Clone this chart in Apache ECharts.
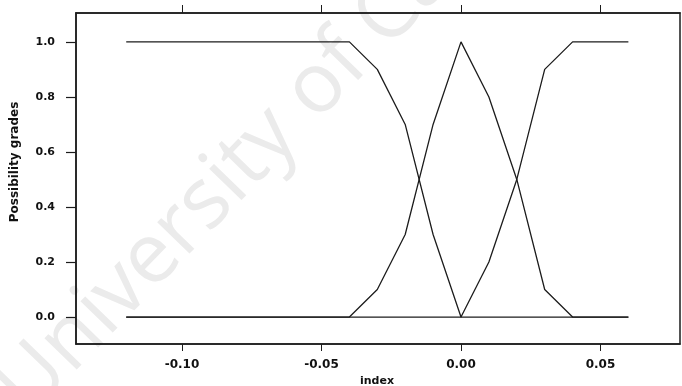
<!DOCTYPE html>
<html>
<head>
<meta charset="utf-8">
<script src="https://cdn.jsdelivr.net/npm/echarts@6/dist/echarts.min.js"></script>
<style>
  html, body { margin: 0; padding: 0; background: #ffffff; }
  #chart { width: 682px; height: 386px; }
</style>
</head>
<body>
<div id="chart"></div>
<script>
// Index values at which the membership functions are sampled
const indexValues = [-0.12, -0.04, -0.03, -0.02, -0.01, 0.00, 0.01, 0.02, 0.03, 0.04, 0.06];
// Possibility grades of the three fuzzy sets
const gradeLow  = [1, 1, 0.9, 0.7, 0.3, 0, 0, 0, 0, 0, 0];
const gradeMid  = [0, 0, 0.1, 0.3, 0.7, 1, 0.8, 0.5, 0.1, 0, 0];
const gradeHigh = [0, 0, 0, 0, 0, 0, 0.2, 0.5, 0.9, 1, 1];
// Tick positions
const xTicks = [-0.10, -0.05, 0.00, 0.05];
const yTicks = [0.0, 0.2, 0.4, 0.6, 0.8, 1.0];

const ink = '#1c1c1c';
const pairs = ys => indexValues.map((x, i) => [x, ys[i]]);

const lineSeries = ys => ({
  type: 'line',
  data: pairs(ys),
  showSymbol: false,
  symbol: 'none',
  lineStyle: { color: ink, width: 1.3 },
  itemStyle: { color: ink },
  animation: false,
  z: 3
});

const frameLine = { show: true, onZero: false, lineStyle: { color: ink, width: 1.5 } };

const chart = echarts.init(document.getElementById('chart'), null, { renderer: 'canvas' });
chart.setOption({
  backgroundColor: '#ffffff',
  animation: false,
  grid: {
    left: 76, right: 2, top: 13, bottom: 42,
    show: true,
    borderColor: ink,
    borderWidth: 1.5,
    backgroundColor: 'transparent'
  },
  xAxis: [
    {
      type: 'value',
      position: 'bottom',
      min: -0.138, max: 0.0785,
      axisLine: frameLine,
      splitLine: { show: false },
      axisTick: { show: true, customValues: xTicks, length: 7, lineStyle: { color: ink, width: 1 } },
      axisLabel: {
        customValues: xTicks,
        margin: 15,
        formatter: v => v.toFixed(2),
        color: '#111',
        fontFamily: 'DejaVu Sans',
        fontWeight: 'bold',
        fontSize: 12
      }
    },
    {
      type: 'value',
      position: 'top',
      min: -0.138, max: 0.0785,
      axisLine: frameLine,
      splitLine: { show: false },
      axisTick: { show: true, customValues: xTicks, length: 8, lineStyle: { color: ink, width: 1 } },
      axisLabel: { show: false }
    }
  ],
  yAxis: {
    type: 'value',
    min: -0.098, max: 1.105,
    axisLine: frameLine,
    splitLine: { show: false },
    axisTick: { show: true, customValues: yTicks, length: 10, lineStyle: { color: ink, width: 1.2 } },
    axisLabel: {
      customValues: yTicks,
      margin: 21,
      formatter: v => v.toFixed(1),
      color: '#111',
      fontFamily: 'DejaVu Sans',
      fontWeight: 'bold',
      fontSize: 11
    }
  },
  graphic: {
    elements: [
      {
        type: 'text',
        x: 12, y: 402,
        rotation: 0.8,
        z: -10,
        silent: true,
        style: {
          text: 'University of Cape Town',
          fill: '#ebebeb',
          font: '84px "Open Sans"',
          align: 'left',
          verticalAlign: 'middle'
        }
      },
      {
        type: 'text',
        x: 15, y: 162,
        rotation: Math.PI / 2,
        silent: true,
        style: {
          text: 'Possibility grades',
          fill: '#111',
          font: 'bold 12px "DejaVu Sans"',
          align: 'center',
          verticalAlign: 'middle'
        }
      },
      {
        type: 'text',
        x: 377, y: 376,
        silent: true,
        style: {
          text: 'index',
          fill: '#111',
          font: 'bold 11px "DejaVu Sans"',
          align: 'center',
          verticalAlign: 'top'
        }
      }
    ]
  },
  series: [lineSeries(gradeLow), lineSeries(gradeMid), lineSeries(gradeHigh)]
});
</script>
</body>
</html>
